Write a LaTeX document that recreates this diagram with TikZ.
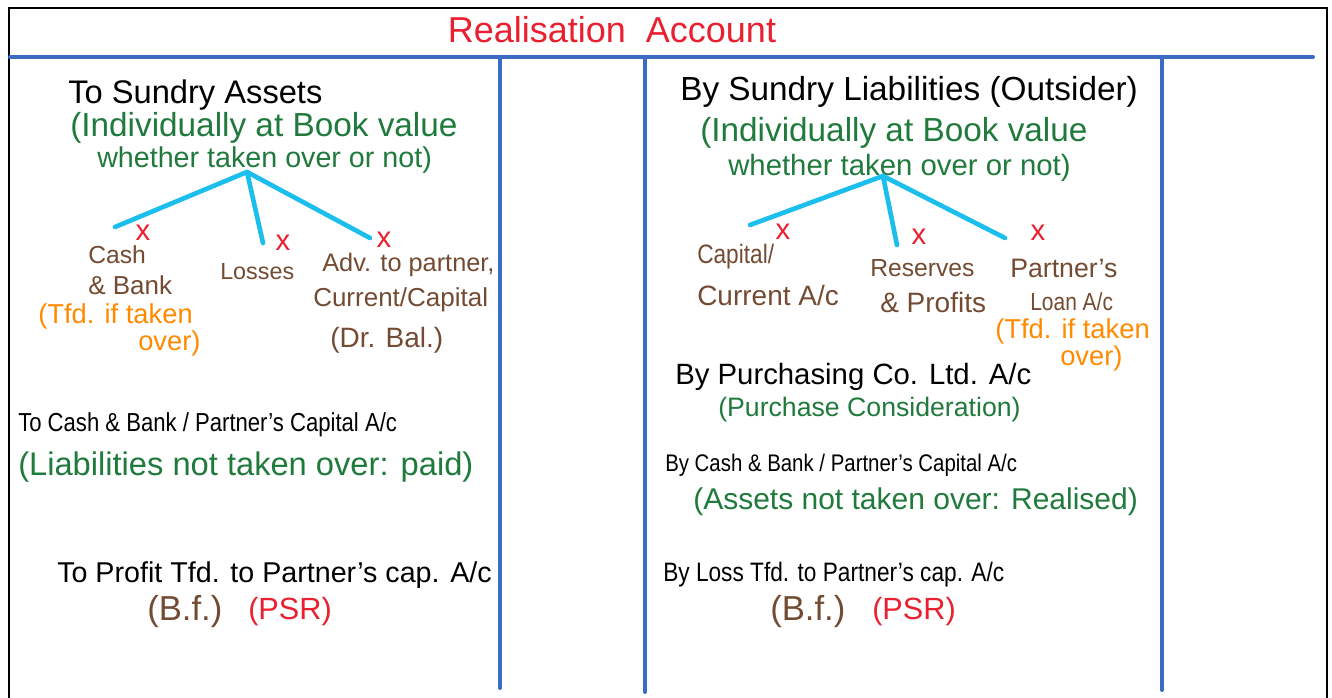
\documentclass[tikz,border=0pt]{standalone}
\usepackage{fontspec}
\setmainfont{Liberation Sans}
\newfontfamily\narrowfont[FakeStretch=0.85,Ligatures=TeX]{Liberation Sans}
\definecolor{ruleblue}{RGB}{58,108,196}
\definecolor{branchcyan}{RGB}{28,190,238}
\definecolor{notegreen}{RGB}{31,122,60}
\definecolor{itembrown}{RGB}{115,75,50}
\definecolor{noteorange}{RGB}{255,138,0}
\definecolor{markred}{RGB}{232,32,47}
\begin{document}
\begin{tikzpicture}[x=0.75pt,y=-0.75pt,
    fs/.style={font=\fontsize{#1pt}{#1pt}\selectfont},
    nfs/.style={font=\narrowfont\fontsize{#1pt}{#1pt}\selectfont},
    entry/.style={anchor=west,inner sep=0pt,black},
    note/.style={anchor=west,inner sep=0pt,notegreen},
    item/.style={anchor=west,inner sep=0pt,itembrown},
    tfd/.style={anchor=west,inner sep=0pt,noteorange},
    psr/.style={anchor=west,inner sep=0pt,markred},
    xmark/.style={inner sep=0pt,markred,fs=22},
    rule/.style={ruleblue,line width=3pt,line cap=round},
    branch/.style={branchcyan,line width=3.5pt,line cap=round}]
    \useasboundingbox (0,0) rectangle (1332,697);
    \draw[line width=1.5pt] (9,705) -- (9,8) -- (1327,8) -- (1327,705);
    \draw[rule] (10,57) -- (1313,57);
    \draw[rule] (500,57) -- (500,688);
    \draw[rule] (645,57) -- (645,692);
    \draw[rule] (1162,57) -- (1162,690);
    \node[markred,fs=27] (title) at (612,30) {Realisation\ \ Account};

    \node[entry,fs=24.5] (sundryA) at (68,95) {To Sundry Assets};
    \node[note,fs=25] (lind1) at (70,128) {(Individually at Book value};
    \node[note,fs=21.5] (lind2) at (97,160) {whether taken over or not)};
    \coordinate (lroot) at (247,172);
    \coordinate (lleafa) at (115,227);
    \coordinate (lleafb) at (263,243);
    \coordinate (lleafc) at (370,238);
    \draw[branch] (lroot) -- (lleafa);
    \draw[branch] (lroot) -- (lleafb);
    \draw[branch] (lroot) -- (lleafc);
    \node[xmark] (lxa) at (143,233) {x};
    \node[xmark] (lxb) at (283,243) {x};
    \node[xmark] (lxc) at (384,240) {x};
    \node[item,fs=18.5] (cash1) at (88,255) {Cash};
    \node[item,fs=19.5] (cash2) at (88,285) {\& Bank};
    \node[tfd,fs=20.5] (ltfd1) at (38,316) {(Tfd. if taken};
    \node[tfd,fs=20.5] (ltfd2) at (138,343) {over)};
    \node[item,fs=17.5] (losses) at (220,272) {Losses};
    \node[item,fs=19] (adv1) at (322,265) {Adv. to partner,};
    \node[item,fs=19.5] (adv2) at (313,300) {Current/Capital};
    \node[item,fs=21] (adv3) at (330,340) {(Dr. Bal.)};
    \node[entry,nfs=19.5] (lcash) at (18,425) {To Cash \& Bank / Partner's Capital A/c};
    \node[note,fs=24.5] (lliab) at (18,467) {(Liabilities not taken over: paid)};
    \node[entry,fs=21.5] (lprofit) at (57,575) {To Profit Tfd. to Partner's cap. A/c};
    \node[item,fs=26] (lbf) at (147,612) {(B.f.)};
    \node[psr,fs=23] (lpsr) at (248,612) {(PSR)};

    \node[entry,fs=25] (sundryL) at (680,92) {By Sundry Liabilities (Outsider)};
    \node[note,fs=25] (rind1) at (700,133) {(Individually at Book value};
    \node[note,fs=22] (rind2) at (728,168) {whether taken over or not)};
    \coordinate (rroot) at (883,176);
    \coordinate (rleafa) at (750,225);
    \coordinate (rleafb) at (897,245);
    \coordinate (rleafc) at (1005,238);
    \draw[branch] (rroot) -- (rleafa);
    \draw[branch] (rroot) -- (rleafb);
    \draw[branch] (rroot) -- (rleafc);
    \node[xmark] (rxa) at (783,232) {x};
    \node[xmark] (rxb) at (919,237) {x};
    \node[xmark] (rxc) at (1038,233) {x};
    \node[item,nfs=20] (cap1) at (697,257) {Capital/};
    \node[item,fs=21] (cap2) at (697,295) {Current A/c};
    \node[item,fs=18.5] (res1) at (870,268) {Reserves};
    \node[item,fs=21] (res2) at (880,302) {\& Profits};
    \node[item,fs=20] (loan1) at (1010,268) {Partner's};
    \node[item,nfs=18.5] (loan2) at (1030,302) {Loan A/c};
    \node[tfd,fs=20.5] (rtfd1) at (995,331) {(Tfd. if taken};
    \node[tfd,fs=20.5] (rtfd2) at (1060,358) {over)};
    \node[entry,fs=22] (purch) at (675,377) {By Purchasing Co. Ltd. A/c};
    \node[note,fs=20] (pcons) at (718,410) {(Purchase Consideration)};
    \node[entry,nfs=18] (rcash) at (665,465) {By Cash \& Bank / Partner's Capital A/c};
    \node[note,fs=22.5] (rassets) at (693,502) {(Assets not taken over: Realised)};
    \node[entry,nfs=20] (rloss) at (663,575) {By Loss Tfd. to Partner's cap. A/c};
    \node[item,fs=26] (rbf) at (770,612) {(B.f.)};
    \node[psr,fs=23] (rpsr) at (872,612) {(PSR)};
\end{tikzpicture}
\end{document}
